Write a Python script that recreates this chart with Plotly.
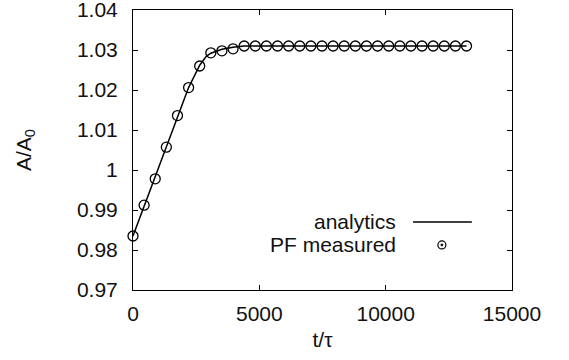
import plotly.graph_objects as go

# measured points (PF measured)
pf_t = [i * 440 for i in range(31)]
pf_A = [0.9835, 0.9912, 0.9978, 1.0057, 1.0136, 1.0206, 1.0260, 1.0293, 1.0298, 1.0303,
        1.0310, 1.0310, 1.0310, 1.0310, 1.0310, 1.0310, 1.0310, 1.0310, 1.0310, 1.0310,
        1.0310, 1.0310, 1.0310, 1.0310, 1.0310, 1.0310, 1.0310, 1.0310, 1.0310, 1.0310,
        1.0310]

# analytic curve
an_t = [0, 440, 880, 1320, 1760, 2200, 2640, 2900, 3080, 3300, 3520, 3960, 4400, 13200]
an_A = [0.9835, 0.9910, 0.9982, 1.0057, 1.0133, 1.0206, 1.0262, 1.0284, 1.0292, 1.0298,
        1.0302, 1.0307, 1.0310, 1.0310]

x_ticks = [0, 5000, 10000, 15000]
y_ticks = [0.97, 0.98, 0.99, 1.00, 1.01, 1.02, 1.03, 1.04]
y_ticktext = ["0.97", "0.98", "0.99", "1", "1.01", "1.02", "1.03", "1.04"]

FONT = "Liberation Sans, Arial, sans-serif"
FS = 21

fig = go.Figure()
fig.add_trace(go.Scatter(x=an_t, y=an_A, mode="lines",
                         line=dict(color="black", width=1.5), name="analytics",
                         showlegend=False, cliponaxis=False))
fig.add_trace(go.Scatter(x=pf_t, y=pf_A, mode="markers",
                         marker=dict(symbol="circle-open", size=10,
                                     line=dict(color="black", width=1.3), color="black"),
                         name="PF measured", showlegend=False, cliponaxis=False))

axis_common = dict(showline=True, linecolor="black", linewidth=1, mirror="allticks",
                   ticks="inside", ticklen=5, tickcolor="black", tickwidth=1,
                   showgrid=False, zeroline=False, ticklabeloverflow="allow",
                   automargin=False,
                   tickfont=dict(family=FONT, size=FS, color="#111"))

fig.update_xaxes(range=[0, 15000], tickvals=x_ticks, ticktext=[str(v) for v in x_ticks],
                 title=dict(text="t/τ", font=dict(family=FONT, size=FS, color="#111"), standoff=8),
                 ticklabelstandoff=5, **axis_common)
fig.update_yaxes(range=[0.97, 1.04], tickvals=y_ticks, ticktext=y_ticktext,
                 title=dict(text="A/A<sub>0</sub>", font=dict(family=FONT, size=FS, color="#111"), standoff=39),
                 ticklabelstandoff=10, **axis_common)

# custom gnuplot-style key
fig.add_annotation(x=0.699, y=0.243, xref="paper", yref="paper", text="analytics",
                   showarrow=False, xanchor="right", yanchor="middle",
                   font=dict(family=FONT, size=FS, color="#111"))
fig.add_annotation(x=0.699, y=0.161, xref="paper", yref="paper", text="PF measured",
                   showarrow=False, xanchor="right", yanchor="middle",
                   font=dict(family=FONT, size=FS, color="#111"))
fig.add_shape(type="line", xref="paper", yref="paper", x0=0.739, x1=0.894, y0=0.243, y1=0.243,
              line=dict(color="black", width=1.5))
fig.add_shape(type="circle", xref="paper", yref="paper", xsizemode="pixel", ysizemode="pixel",
              xanchor=0.815, yanchor=0.161, x0=-4, x1=4, y0=-4, y1=4,
              line=dict(color="black", width=1.2))
fig.add_shape(type="circle", xref="paper", yref="paper", xsizemode="pixel", ysizemode="pixel",
              xanchor=0.815, yanchor=0.161, x0=-1, x1=1, y0=-1, y1=1,
              line=dict(color="black", width=0.8), fillcolor="black")

fig.update_layout(width=569, height=360, margin=dict(l=133, r=57, t=10, b=70),
                  plot_bgcolor="white", paper_bgcolor="white", showlegend=False,
                  font=dict(family=FONT, size=FS, color="#111"))

fig.write_html("out.html")
